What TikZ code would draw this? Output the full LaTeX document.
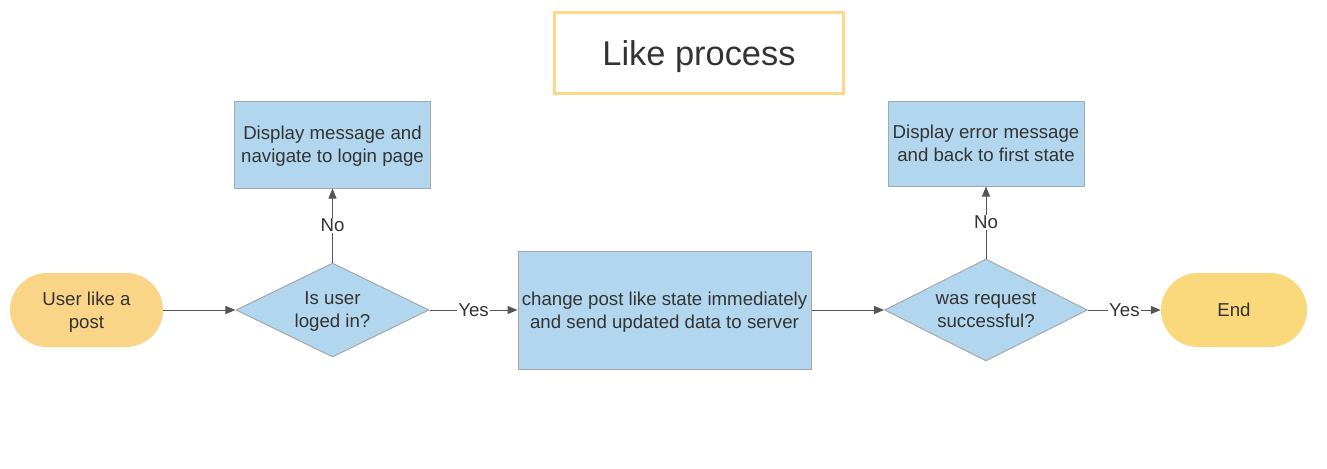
\documentclass[tikz,border=0pt]{standalone}
\usepackage{fontspec}
\setmainfont{Liberation Sans}
\usetikzlibrary{shapes.geometric,arrows.meta}
\definecolor{txtgray}{HTML}{333333}
\definecolor{linegray}{HTML}{555555}
\definecolor{boxline}{HTML}{A3A9AE}
\definecolor{boxblue}{HTML}{B1D6EE}
\definecolor{startyellow}{HTML}{FAD587}
\definecolor{endyellow}{HTML}{F9D97B}
\definecolor{titleyellow}{HTML}{FFD886}
\begin{document}
\begin{tikzpicture}[x=0.75pt,y=-0.75pt,
    every node/.style={text=txtgray,align=center,font=\fontsize{14}{17.25}\selectfont},
    procbox/.style={rectangle,draw=boxline,fill=boxblue,line width=0.75pt,inner sep=0pt,text depth=0pt},
    decision/.style={diamond,draw=boxline,fill=boxblue,line width=0.75pt,inner sep=0pt,text depth=0pt},
    terminal/.style={rectangle,rounded corners=27.75pt,inner sep=0pt,minimum height=55.5pt,text depth=0pt},
    flow/.style={draw=linegray,line width=0.75pt,-{Triangle[length=7.5pt,width=6pt]}},
    answer/.style={fill=white,inner sep=1pt}]
    %   \draw[thin] (0,0) rectangle (1327,468);
\useasboundingbox (0,0) rectangle (1327,468);
\node[draw=titleyellow,line width=2.25pt,minimum width=216.75pt,minimum height=60.75pt,text depth=0pt,font=\fontsize{25.8}{30}\selectfont] (title) at (699,53) {Like process};
\node[terminal,fill=startyellow,minimum width=114.75pt] (start) at (86.5,310) {User like a\\post};
\node[decision,aspect=2.05,minimum width=144.75pt,minimum height=70.5pt] (logged) at (332.5,310) {Is user\\loged in?};
\node[procbox,minimum width=147pt,minimum height=65.25pt] (login) at (332.5,144.5) {Display message and\\navigate to login page};
\node[procbox,minimum width=219.75pt,minimum height=88.5pt] (update) at (664.5,310) {change post like state immediately\\and send updated data to server};
\node[decision,aspect=1.99,minimum width=152.25pt,minimum height=76.5pt] (success) at (986,310) {was request\\successful?};
\node[procbox,minimum width=147pt,minimum height=63.75pt] (error) at (986,143.5) {Display error message\\and back to first state};
\node[terminal,fill=endyellow,minimum width=109.5pt] (end) at (1234,310) {End};
\draw[flow] (start) -- (logged);
\draw[flow] (logged.north) -- node[answer] {No} (login.south);
\draw[flow] (logged.east) -- node[answer] {Yes} (update.west);
\draw[flow] (update.east) -- (success.west);
\draw[flow] (success.north) -- node[answer] {No} (error.south);
\draw[flow] (success.east) -- node[answer] {Yes} (end.west);
\end{tikzpicture}
\end{document}
